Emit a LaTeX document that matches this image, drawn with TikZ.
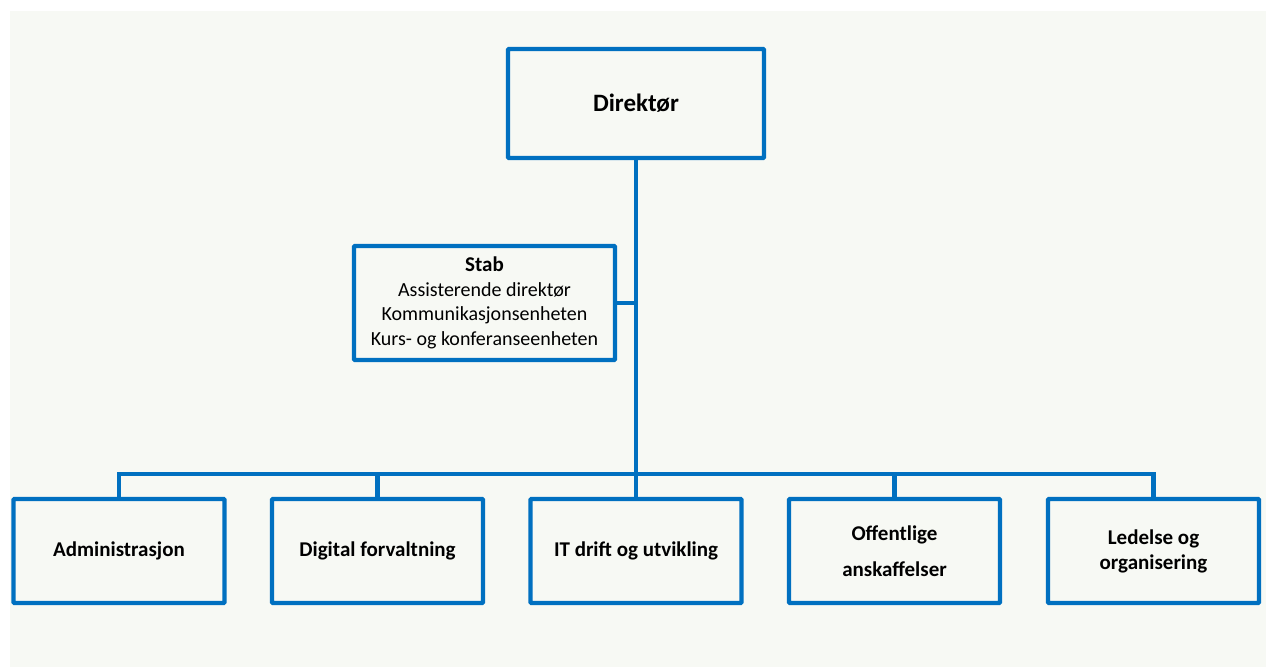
\documentclass[tikz,border=0pt]{standalone}
\usepackage{fontspec}
\setmainfont{Carlito}
\definecolor{bgc}{RGB}{247,249,244}
\definecolor{boxblue}{RGB}{0,112,192}
\begin{document}
\begin{tikzpicture}[x=1pt,y=-1pt,
  orgbox/.style={draw=boxblue,line width=4.3pt,fill=bgc,rounded corners=1pt,inner sep=0pt,align=center,text=black},
  conn/.style={draw=boxblue,line width=4.3pt},
  unitbox/.style={orgbox,minimum width=211pt,minimum height=104pt,font=\bfseries\fontsize{21}{25}\selectfont}]
\useasboundingbox (0,0) rectangle (1266,667);
\fill[bgc] (10,11) rectangle (1266,667);
\node[orgbox,minimum width=256pt,minimum height=109pt,font=\bfseries\fontsize{25}{30}\selectfont] (dir) at (636,103.5) {Direktør};
\node[orgbox,minimum width=261pt,minimum height=114pt,font=\fontsize{20}{24.5}\selectfont] (stab) at (484.5,303)
  {{\bfseries\fontsize{21}{24.5}\selectfont Stab}\\Assisterende direktør\\Kommunikasjonsenheten\\Kurs- og konferanseenheten};
\node[unitbox] (adm) at (119,551) {Administrasjon};
\node[unitbox] (dig) at (377.5,551) {Digital forvaltning};
\node[unitbox] (it) at (636,551) {IT drift og utvikling};
\node[unitbox] (off) at (894.5,551) {Offentlige\\[11pt]anskaffelser};
\node[unitbox] (led) at (1153.5,551) {Ledelse og\\organisering};
\coordinate (bus) at (636,474);
\draw[conn] (dir.south) -- (it.north);
\draw[conn] (stab.east) -- (stab.east -| bus);
\draw[conn,line cap=rect] (adm.north |- bus) -- (led.north |- bus);
\draw[conn] (adm.north) -- (adm.north |- bus);
\draw[conn] (dig.north) -- (dig.north |- bus);
\draw[conn] (off.north) -- (off.north |- bus);
\draw[conn] (led.north) -- (led.north |- bus);
\end{tikzpicture}
\end{document}
